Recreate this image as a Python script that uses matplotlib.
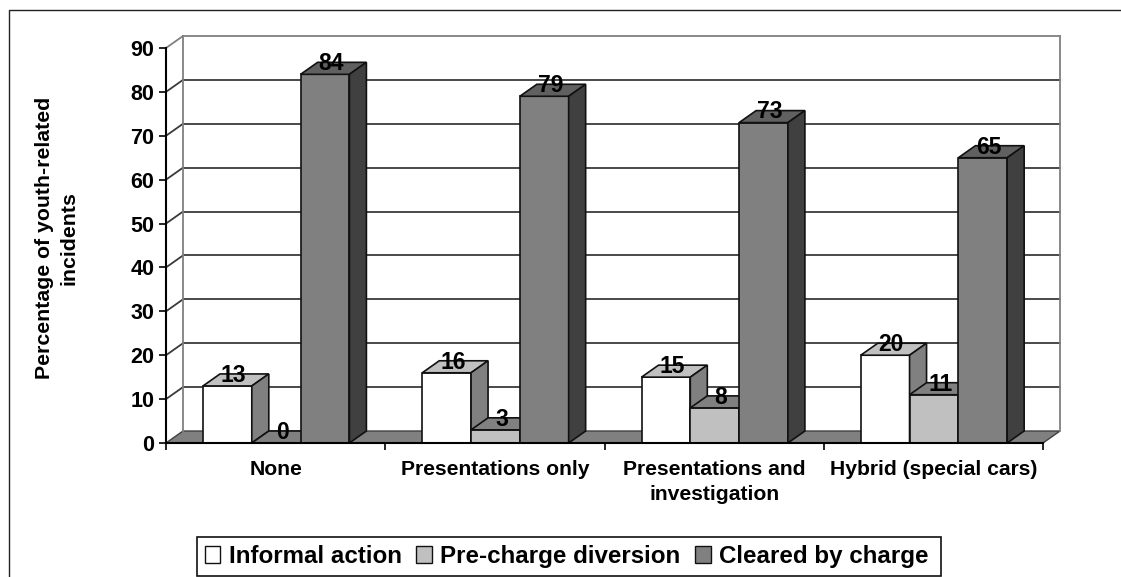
import matplotlib
matplotlib.use("Agg")
import matplotlib.pyplot as plt
from matplotlib.lines import Line2D
from matplotlib.patches import Patch, Polygon, Rectangle

CATEGORIES = ["None", "Presentations only", "Presentations and\ninvestigation", "Hybrid (special cars)"]
SERIES = ["Informal action", "Pre-charge diversion", "Cleared by charge"]
INFORMAL = [13, 16, 15, 20]
DIVERSION = [0, 3, 8, 11]
CHARGE = [84, 79, 73, 65]
Y_TICKS = [0, 10, 20, 30, 40, 50, 60, 70, 80, 90]

W, H = 1121, 577
LEFT, RIGHT, BOTTOM, TOP = 166, 1043, 443, 48
PX_X = (RIGHT - LEFT) / 4
PX_Y = (BOTTOM - TOP) / 90
DX = 17 / PX_X
DY = 12 / PX_Y
BAR_W = 48.8 / PX_X
BAR_START = 37 / PX_X
# front, top, side
SHADES = [("#FFFFFF", "#C0C0C0", "#808080"),
          ("#C0C0C0", "#808080", "#606060"),
          ("#808080", "#606060", "#404040")]
EDGE = "#111111"

plt.rcParams["font.family"] = ["Liberation Sans", "DejaVu Sans"]
plt.rcParams["font.weight"] = "bold"

fig = plt.figure(figsize=(W / 100, H / 100), dpi=100)
ax = fig.add_axes([LEFT / W, 1 - BOTTOM / H, (RIGHT - LEFT) / W, (BOTTOM - TOP) / H])
ax.set_xlim(0, 4)
ax.set_ylim(0, 90)
ax.patch.set_visible(False)

# walls and floor
ax.add_patch(Polygon([(0, 0), (DX, DY), (4 + DX, DY), (4, 0)], fc="#808080", ec="#404040", lw=1.0, zorder=1, clip_on=False))
for v in Y_TICKS[1:]:
    ax.plot([DX, 4 + DX], [v + DY, v + DY], color="#3a3a3a" if v < 90 else "#808080", lw=1.3, zorder=1, clip_on=False)
    ax.plot([0, DX], [v, v + DY], color="#3a3a3a" if v < 90 else "#808080", lw=1.3, zorder=1, clip_on=False)
ax.plot([DX, DX], [DY, 90 + DY], color="#808080", lw=1.3, zorder=1, clip_on=False)
ax.plot([4 + DX, 4 + DX], [DY, 90 + DY], color="#808080", lw=1.3, zorder=1, clip_on=False)

z = 2
for s, vals in enumerate([INFORMAL, DIVERSION, CHARGE]):
    front, top, side = SHADES[s]
    for c, v in enumerate(vals):
        x0 = c + BAR_START + s * BAR_W
        x1 = x0 + BAR_W
        ax.add_patch(Polygon([(x0, 0), (x0, v), (x1, v), (x1, 0)], fc=front, ec=EDGE, lw=1.2, zorder=z + c, clip_on=False))
        ax.add_patch(Polygon([(x0, v), (x0 + DX, v + DY), (x1 + DX, v + DY), (x1, v)], fc=top, ec=EDGE, lw=1.2, zorder=z + c, clip_on=False))
        ax.add_patch(Polygon([(x1, 0), (x1 + DX, DY), (x1 + DX, v + DY), (x1, v)], fc=side, ec=EDGE, lw=1.2, zorder=z + c, clip_on=False))
        ax.annotate(str(v), (x0 + BAR_W / 2, v), xytext=(4.5, 7.7), textcoords="offset points",
                    ha="center", va="center", fontsize=16.5, fontweight="bold", color="black", zorder=20)

for name in ["top", "right"]:
    ax.spines[name].set_visible(False)
for name in ["left", "bottom"]:
    ax.spines[name].set_linewidth(1.5)
    ax.spines[name].set_zorder(15)

ax.set_yticks(Y_TICKS)
ax.tick_params(axis="y", length=5, width=1.2, labelsize=15.5, pad=3.5)
ax.set_xticks([0, 1, 2, 3, 4])
ax.set_xticklabels([])
ax.tick_params(axis="x", length=5, width=1.2)
ax.set_xticks([0.5, 1.5, 2.5, 3.5], minor=True)
ax.set_xticklabels(CATEGORIES, minor=True, fontsize=15.2, fontweight="bold", linespacing=1.4, va="top")
ax.tick_params(axis="x", which="minor", length=0, pad=12.5)

fig.text(56.5 / W, 1 - 238 / H, "Percentage of youth-related\nincidents", rotation=90,
         ha="center", va="center", fontsize=15.3, fontweight="bold", linespacing=1.35, multialignment="center")

# chart frame, left and top only
fig.add_artist(Line2D([8.5 / W, 8.5 / W, 1], [0, 1 - 10 / H, 1 - 10 / H], color="#222222", lw=1.0))

# legend box is not centred on its entries, so it is drawn apart
fig.add_artist(Rectangle((197 / W, 1 - 576 / H), 744 / W, 39 / H, transform=fig.transFigure,
                         fc="white", ec="#111111", lw=1.2))
handles = [Patch(fc=SHADES[i][0], ec=EDGE, lw=1.0) for i in range(3)]
leg = fig.legend(handles, SERIES, ncol=3, loc="center", bbox_to_anchor=(566.5 / W, 1 - 556.5 / H),
                 fontsize=17.4, frameon=False,
                 handlelength=0.65, handleheight=0.65, handletextpad=0.34, columnspacing=0.6,
                 borderpad=0, borderaxespad=0)

fig.savefig("out.png", dpi=100)
plt.close(fig)
